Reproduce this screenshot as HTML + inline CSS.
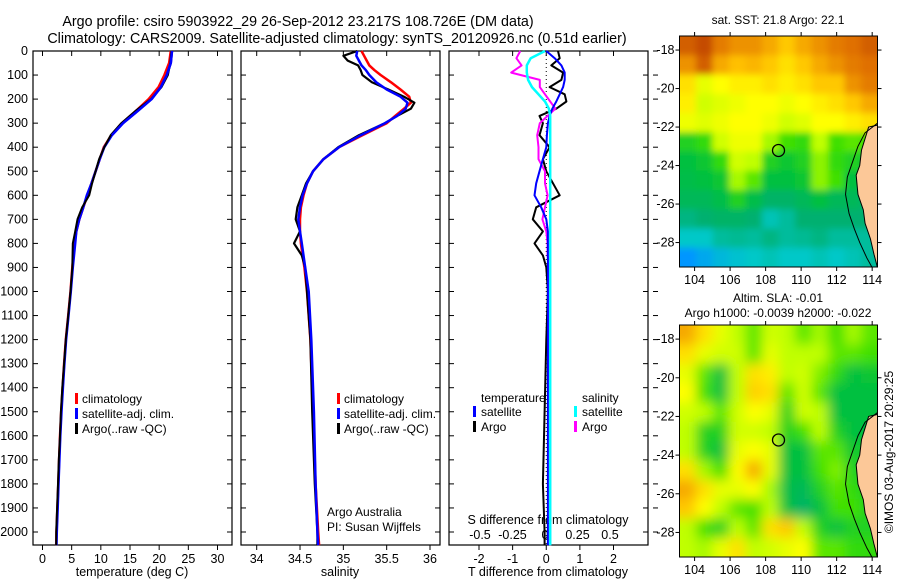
<!DOCTYPE html>
<html><head><meta charset="utf-8"><style>
html,body{margin:0;padding:0;background:#fff}
svg{display:block;font-family:"Liberation Sans",sans-serif}
</style></head><body>
<svg id="chart" width="900" height="580" viewBox="0 0 900 580">
<text x="298" y="26" font-size="14.3" text-anchor="middle">Argo profile: csiro 5903922_29 26-Sep-2012 23.217S 108.726E (DM data)</text>
<text x="337" y="43" font-size="14.3" text-anchor="middle">Climatology: CARS2009. Satellite-adjusted climatology: synTS_20120926.nc (0.51d earlier)</text>
<g id="g"></g>
</svg>
<script>
// ---------- data ----------
const depthTicks=[0,100,200,300,400,500,600,700,800,900,1000,1100,1200,1300,1400,1500,1600,1700,1800,1900,2000];
const tTicks=[0,5,10,15,20,25,30];
const sTicks=[34,34.5,35,35.5,36];
const dTTicks=[-2,-1,0,1,2];
const dSTicks=[-0.5,-0.25,0,0.25,0.5];
const dSTickLabels=["-0.5","-0.25","0","0.25","0.5"];

const tDepth=[0,50,100,150,200,250,300,350,400,450,500,550,600,650,700,750,800,900,1000,1100,1200,1300,1400,1500,1600,1700,1800,1900,2000,2055];
const tClim=[22,21.7,20.9,19.9,18.2,16,13.6,11.8,10.5,9.8,9.1,8.4,7.7,7.0,6.3,5.8,5.5,5.1,4.8,4.4,4.0,3.7,3.45,3.2,3.0,2.85,2.7,2.55,2.4,2.35];
const tSat=[22.2,22,21.3,20.3,18.7,16.3,13.8,11.9,10.6,9.8,9.1,8.4,7.6,7.0,6.3,5.8,5.6,5.2,4.85,4.45,4.05,3.75,3.5,3.25,3.05,2.9,2.75,2.6,2.45,2.4];
const tArgo=[22.1,21.9,21.5,20.4,18.6,15.9,13.5,11.7,10.6,9.7,9.1,8.5,8.0,6.8,6.0,5.6,5.2,5.1,4.8,4.4,4.0,3.7,3.4,3.15,3.0,2.8,2.65,2.5,2.35,2.35];

const sDepth=[0,20,40,60,80,100,130,160,190,215,240,270,300,350,400,450,500,550,600,650,700,750,800,850,900,1000,1200,1500,1800,2000,2055];
const sClim=[35.21,35.24,35.27,35.3,35.36,35.43,35.55,35.66,35.76,35.78,35.7,35.6,35.5,35.22,34.95,34.77,34.65,34.58,34.54,34.51,34.5,34.5,34.51,34.53,34.55,34.58,34.62,34.65,34.68,34.71,34.72];
const sSat=[35.16,35.15,35.18,35.21,35.26,35.3,35.38,35.5,35.66,35.74,35.72,35.62,35.48,35.2,34.95,34.77,34.65,34.58,34.53,34.5,34.48,34.5,34.52,34.54,34.56,34.6,34.63,34.66,34.68,34.7,34.71];
const sArgo=[35.16,35.0,35.05,35.17,35.2,35.22,35.33,35.52,35.7,35.82,35.78,35.62,35.48,35.18,34.94,34.77,34.65,34.57,34.52,34.47,34.45,34.5,34.43,34.52,34.56,34.58,34.62,34.64,34.67,34.7,34.7];

const dDepth=[0,30,60,90,120,150,180,210,240,270,300,350,400,450,500,550,600,650,700,750,800,850,900,1000,1200,1500,1800,2000,2055];
const dTSat=[0,0.25,0.45,0.55,0.55,0.5,0.4,0.3,0.18,0.1,0.05,0.02,0.0,-0.1,-0.2,-0.3,-0.35,-0.15,0.0,0.05,0.05,0.05,0.05,0.05,0.05,0.05,0.05,0.05,0.05];
const dTArgo=[0.35,0.4,0.15,0.5,0.45,0.1,0.55,0.6,0.3,-0.2,-0.1,-0.2,0.1,-0.1,0.0,0.2,0.4,-0.3,-0.4,-0.1,-0.35,-0.1,0.0,0.05,0.0,-0.05,-0.1,-0.05,-0.05];
const dSSat=[0.0,-0.11,-0.14,-0.14,-0.13,-0.1,-0.05,0.0,0.03,0.04,0.04,0.04,0.04,0.04,0.04,0.04,0.04,0.04,0.04,0.04,0.04,0.04,0.04,0.04,0.04,0.04,0.04,0.04,0.04];
const dSArgo=[-0.19,-0.22,-0.18,-0.26,-0.04,-0.04,0.0,0.04,0.08,0.02,-0.04,-0.06,-0.05,-0.05,0.0,0.0,0.02,0.0,-0.02,0.01,0.02,0.02,0.03,0.03,0.03,0.04,0.04,0.04,0.04];

const lonTicks=[104,106,108,110,112,114];
const latTicks=[-18,-20,-22,-24,-26,-28];
const sstGrid=[
[0.95,0.97,0.92,0.9,0.9,0.88,0.85,0.88,0.9,0.92,0.93,0.95],
[0.9,0.95,0.88,0.86,0.87,0.85,0.82,0.85,0.88,0.9,0.92,0.93],
[0.82,0.75,0.78,0.8,0.8,0.82,0.8,0.82,0.85,0.85,0.9,0.92],
[0.8,0.72,0.74,0.76,0.78,0.78,0.76,0.78,0.8,0.82,0.85,0.88],
[0.76,0.74,0.76,0.78,0.78,0.76,0.72,0.74,0.78,0.78,0.8,0.82],
[0.55,0.58,0.72,0.76,0.76,0.68,0.6,0.58,0.7,0.6,0.62,0.6],
[0.5,0.52,0.58,0.72,0.7,0.55,0.52,0.55,0.66,0.58,0.55,0.5],
[0.48,0.5,0.52,0.68,0.62,0.5,0.5,0.52,0.66,0.6,0.5,0.45],
[0.45,0.45,0.48,0.55,0.48,0.42,0.42,0.45,0.5,0.45,0.45,0.4],
[0.38,0.4,0.42,0.42,0.4,0.32,0.35,0.4,0.4,0.4,0.4,0.4],
[0.3,0.3,0.35,0.36,0.35,0.38,0.35,0.36,0.38,0.35,0.35,0.35],
[0.15,0.2,0.25,0.28,0.3,0.32,0.3,0.3,0.32,0.3,0.32,0.35]];
const slaGrid=[
[0.88,0.82,0.75,0.7,0.62,0.72,0.7,0.62,0.68,0.6,0.68,0.62],
[0.82,0.75,0.72,0.72,0.62,0.75,0.7,0.7,0.7,0.62,0.62,0.6],
[0.75,0.62,0.5,0.7,0.82,0.8,0.7,0.72,0.65,0.58,0.5,0.52],
[0.78,0.6,0.5,0.7,0.84,0.82,0.62,0.72,0.62,0.5,0.5,0.5],
[0.72,0.7,0.62,0.72,0.78,0.75,0.55,0.72,0.7,0.5,0.5,0.5],
[0.7,0.55,0.55,0.72,0.72,0.7,0.55,0.6,0.7,0.55,0.5,0.5],
[0.7,0.55,0.5,0.75,0.78,0.75,0.5,0.5,0.62,0.62,0.52,0.55],
[0.82,0.68,0.6,0.78,0.88,0.75,0.5,0.5,0.6,0.65,0.55,0.55],
[0.88,0.82,0.75,0.75,0.78,0.68,0.48,0.45,0.55,0.62,0.58,0.55],
[0.85,0.78,0.7,0.62,0.6,0.7,0.5,0.42,0.5,0.6,0.6,0.55],
[0.7,0.6,0.55,0.7,0.62,0.82,0.85,0.7,0.55,0.5,0.55,0.55],
[0.7,0.68,0.75,0.82,0.7,0.72,0.75,0.78,0.62,0.62,0.58,0.58]];
const coastLon=[114.3,113.8,113.6,113.4,113.3,113.1,113.2,113.5,113.6,113.9,114.1,114.3];
const coastLat=[-21.9,-22.0,-22.6,-23.2,-24.0,-24.5,-25.5,-26.3,-27.0,-27.8,-28.6,-29.3];
const shelfLon=[114.3,113.6,113.2,112.9,112.6,112.5,112.7,113.0,113.3,113.7,114.0];
const shelfLat=[-21.8,-22.3,-23.0,-23.8,-24.6,-25.5,-26.5,-27.3,-28.0,-28.8,-29.3];
const argoLon=108.726, argoLat=-23.217;

// ---------- helpers ----------
const NS="http://www.w3.org/2000/svg";
const G=document.getElementById('g');
function el(tag,attrs,parent){const e=document.createElementNS(NS,tag);for(const k in attrs)e.setAttribute(k,attrs[k]);(parent||G).appendChild(e);return e;}
const lin=(d0,d1,r0,r1)=>v=>r0+(v-d0)*(r1-r0)/(d1-d0);
const yD=lin(0,2000,51,532);
const PT=51,PB=545;

function panel(name,x0,x1){
  const r=el('rect',{x:x0,y:PT,width:x1-x0,height:PB-PT,fill:'none',stroke:'#000','stroke-width':1.2});
  
  
  depthTicks.forEach(d=>{
    el('line',{x1:x0,x2:x0+5,y1:yD(d),y2:yD(d),stroke:'#000'});
    el('line',{x1:x1,x2:x1-5,y1:yD(d),y2:yD(d),stroke:'#000'});
  });
}
function xticks(xs,sc,labels,y,name){
  xs.forEach((v,i)=>{
    const x=sc(v);
    el('line',{x1:x,x2:x,y1:PB,y2:PB+5,stroke:'#000'});
    el('line',{x1:x,x2:x,y1:PT,y2:PT+5,stroke:'#000'});
    const t=el('text',{x:x,y:y,'font-size':12.5,'text-anchor':'middle'});
    t.textContent=labels?labels[i]:String(v);
    
    
  });
}
function line(xs,ds,sc,color,name,w){
  const p=el('polyline',{points:xs.map((v,i)=>sc(v).toFixed(1)+','+yD(ds[i]).toFixed(1)).join(' '),fill:'none',stroke:color,'stroke-width':w||2.5,'stroke-linejoin':'round'});
  
  
}
function txt(x,y,s,name,size,anchor){
  const t=el('text',{x:x,y:y,'font-size':size||12,'text-anchor':anchor||'start'});
  t.textContent=s;
  
  
  return t;
}
function legBar(x,y,color,name){
  const r=el('rect',{x:x,y:y,width:3,height:11,fill:color});
  
  
}

depthTicks.forEach(d=>{
  const t=el('text',{x:28,y:yD(d)+4,'font-size':12.5,'text-anchor':'end'});
  t.textContent=d;
  
  
});

// panel 1 temperature
const xT=lin(0,30,42.5,217.5);
panel('temperature-panel',33,232);
xticks(tTicks,xT,null,563,'temperature-tick-label');
txt(132,576,'temperature (deg C)','temperature-axis-title',12.5,'middle');
line(tClim,tDepth,xT,'#f00','temperature-climatology-line');
line(tSat,tDepth,xT,'#00f','temperature-satellite-line');
line(tArgo,tDepth,xT,'#000','temperature-argo-line',2);
line(tSat.slice(0,8),tDepth.slice(0,8),xT,'#00f','temperature-satellite-line-top');
legBar(75,393,'#f00','legend-climatology-marker');txt(82,403,'climatology','legend-climatology');
legBar(75,408,'#00f','legend-satellite-marker');txt(82,418,'satellite-adj. clim.','legend-satellite');
legBar(75,423,'#000','legend-argo-marker');txt(82,433,'Argo(..raw -QC)','legend-argo');

// panel 2 salinity
const xS=lin(34,36,256.7,430);
panel('salinity-panel',241,440);
xticks(sTicks,xS,null,563,'salinity-tick-label');
txt(340,576,'salinity','salinity-axis-title',12.5,'middle');
line(sClim,sDepth,xS,'#f00','salinity-climatology-line');
line(sArgo,sDepth,xS,'#000','salinity-argo-line',2.2);
line(sSat,sDepth,xS,'#00f','salinity-satellite-line');
legBar(337,393,'#f00','legend2-climatology-marker');txt(344,403,'climatology','legend2-climatology');
legBar(337,408,'#00f','legend2-satellite-marker');txt(344,418,'satellite-adj. clim.','legend2-satellite');
legBar(337,423,'#000','legend2-argo-marker');txt(344,433,'Argo(..raw -QC)','legend2-argo');
txt(327,516,'Argo Australia','argo-australia-credit');
txt(327,531,'PI: Susan Wijffels','pi-credit');

// panel 3 differences
const xDT=lin(-2,2,479,613.5);
const xDS=lin(-0.5,0.5,480,610);
panel('difference-panel',449,648);
xticks(dTTicks,xDT,null,563,'t-diff-tick-label');
txt(548,576,'T difference from climatology','t-diff-axis-title',12.5,'middle');
dSTicks.forEach((v,i)=>{txt(xDS(v),539,dSTickLabels[i],'s-diff-tick-label',12.5,'middle');});
txt(548,524,'S difference from climatology','s-diff-axis-title',12.5,'middle');
depthTicks.forEach(d=>el('line',{x1:653,x2:658,y1:yD(d),y2:yD(d),stroke:'#000'}));
el('line',{x1:xDT(0),x2:xDT(0),y1:PT,y2:PB,stroke:'#000','stroke-dasharray':'1,3'});
line(dTArgo,dDepth,xDT,'#000','t-diff-argo-line',2);
line(dSArgo,dDepth,xDS,'#f0f','s-diff-argo-line',2);
line(dTSat,dDepth,xDT,'#00f','t-diff-satellite-line',2);
line(dSSat,dDepth,xDS,'#0ff','s-diff-satellite-line',2.5);
txt(481,402,'temperature','legend3-temperature-title');
legBar(473,406,'#00f','legend3-t-satellite-marker');txt(481,416,'satellite','legend3-t-satellite');
legBar(473,421,'#000','legend3-t-argo-marker');txt(481,431,'Argo','legend3-t-argo');
txt(582,402,'salinity','legend3-salinity-title');
legBar(574,406,'#0ff','legend3-s-satellite-marker');txt(582,416,'satellite','legend3-s-satellite');
legBar(574,421,'#f0f','legend3-s-argo-marker');txt(582,431,'Argo','legend3-s-argo');

// ---------- maps ----------
const cmap=[[0,[0,32,192]],[0.15,[0,150,255]],[0.3,[0,200,200]],[0.4,[0,176,112]],[0.5,[0,192,64]],[0.6,[64,224,0]],[0.7,[192,255,0]],[0.78,[255,255,0]],[0.86,[255,192,0]],[0.93,[224,112,0]],[1,[176,48,0]]];
function col(v){for(let i=1;i<cmap.length;i++){if(v<=cmap[i][0]){const a=cmap[i-1],b=cmap[i];const f=(v-a[0])/(b[0]-a[0]);const c=a[1].map((x,k)=>Math.round(x+(b[1][k]-x)*f));return 'rgb('+c+')';}}return 'rgb(176,48,0)';}
const LON0=103.15,LON1=114.3,LAT0=-17.27,LAT1=-29.27;
function map(name,top,bottom,grid,title1,title2,blur){
  const L=679.5,R=877.5;
  const xL=lin(LON0,LON1,L,R), yL=lin(LAT0,LAT1,top,bottom);
  const g=el('g',{});
  
  
  const id=name+'-clip';
  const cp=el('clipPath',{id:id},g);el('rect',{x:L,y:top,width:R-L,height:bottom-top},cp);
  const img=el('g',{'clip-path':'url(#'+id+')'},g);
  const fid=name+'-blur';
  const f=el('filter',{id:fid,x:'-10%',y:'-10%',width:'120%',height:'120%'},g);el('feGaussianBlur',{stdDeviation:blur},f);
  const cells=el('g',{filter:'url(#'+fid+')'},img);
  const nr=grid.length,nc=grid[0].length;
  const dLon=(LON1-LON0)/nc,dLat=(LAT1-LAT0)/nr;
  grid.forEach((row,r)=>row.forEach((v,c)=>{
    let x0=xL(LON0+c*dLon),x1=xL(LON0+(c+1)*dLon),y0=yL(LAT0+r*dLat),y1=yL(LAT0+(r+1)*dLat);
    if(c===0)x0-=15; if(c===nc-1)x1+=15; if(r===0)y0-=15; if(r===nr-1)y1+=15;
    const rc=el('rect',{x:x0,y:y0,width:x1-x0+0.5,height:y1-y0+0.5,fill:col(v)},cells);
    
    
  }));
  let pts=coastLon.map((v,i)=>xL(v)+','+yL(coastLat[i])).join(' ')+' '+xL(114.4)+','+yL(-29.4)+' '+xL(114.4)+','+yL(-21.8);
  const land=el('polygon',{points:pts,fill:'#fcc898',stroke:'#000','stroke-width':1},img);
  
  
  const sh=el('polyline',{points:shelfLon.map((v,i)=>xL(v)+','+yL(shelfLat[i])).join(' '),fill:'none',stroke:'#000','stroke-width':1},img);
  
  
  const c=el('circle',{cx:xL(argoLon),cy:yL(argoLat),r:6,fill:'none',stroke:'#000','stroke-width':1.3},g);
  
  
  el('rect',{x:L,y:top,width:R-L,height:bottom-top,fill:'none',stroke:'#000','stroke-width':1},g);
  lonTicks.forEach(v=>{const x=xL(v);el('line',{x1:x,x2:x,y1:top-4,y2:top,stroke:'#000'},g);el('line',{x1:x,x2:x,y1:bottom,y2:bottom+4,stroke:'#000'},g);
    txt(x,bottom+17,String(v),'longitude-tick-label',12.5,'middle');});
  latTicks.forEach(v=>{const y=yL(v);el('line',{x1:L-4,x2:L,y1:y,y2:y,stroke:'#000'},g);el('line',{x1:R,x2:R+4,y1:y,y2:y,stroke:'#000'},g);
    txt(L-5,y+4,String(v),'latitude-tick-label',12.5,'end');});
  if(title2){txt(778,302,title1,name+'-title',12,'middle');txt(778,317,title2,name+'-subtitle',12,'middle');}
  else txt(778,top-12,title1,name+'-title',12,'middle');
}
map('sst-map',36,267,sstGrid,'sat. SST: 21.8 Argo: 22.1',null,3.5);
map('sla-map',325,557,slaGrid,'Altim. SLA: -0.01','Argo h1000: -0.0039 h2000: -0.022',6);
const cr=txt(0,0,'©IMOS 03-Aug-2017 20:29:25','imos-timestamp',12,'middle');
cr.setAttribute('transform','translate(893,452) rotate(-90)');
</script>
</body></html>
